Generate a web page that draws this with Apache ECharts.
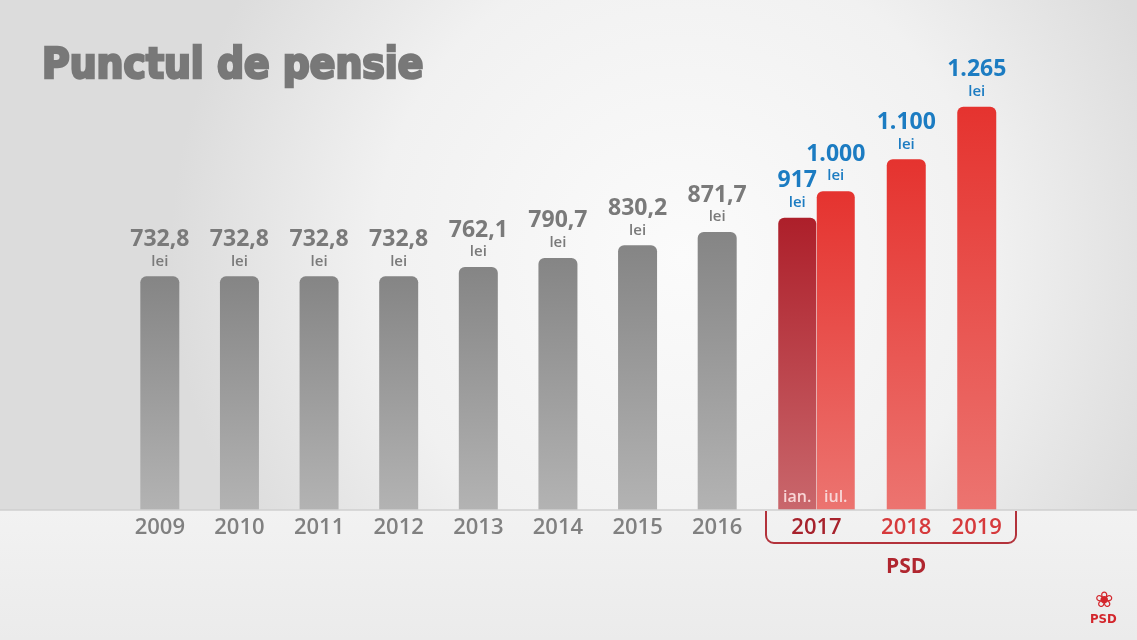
<!DOCTYPE html>
<html><head><meta charset="utf-8">
<script src="https://cdn.jsdelivr.net/npm/echarts@6/dist/echarts.min.js"></script>
<style>html,body{margin:0;padding:0;}#c{width:1137px;height:640px;}</style>
</head><body><div id="c"></div>
<script>
// ---- data ----
var years = ['2009','2010','2011','2012','2013','2014','2015','2016'];
var greyValues = [732.8, 732.8, 732.8, 732.8, 762.1, 790.7, 830.2, 871.7];
var year2017 = ['2017'];
var months2017 = ['ian.', 'iul.'];
var values2017 = [917, 1000];
var laterYears = ['2018', '2019'];
var laterValues = [1100, 1265];
var unit = 'lei';
var titleText = 'Punctul de pensie';
var groupLabel = 'PSD';

function fmt(v) {
  if (Math.round(v) === v) {
    return String(v).replace(/\B(?=(\d{3})+(?!\d))/g, '.');
  }
  return v.toFixed(1).replace('.', ',');
}

var chart = echarts.init(document.getElementById('c'));
var font = '"Open Sans", "Noto Sans", sans-serif';
var YMAX = 1286;

function lbl(color) {
  return {
    show: true, position: 'top', distance: 6,
    formatter: function (p) { return '{v|' + fmt(p.value) + '}\n{u|' + unit + '}'; },
    rich: {
      v: { fontFamily: font, fontSize: 23, fontWeight: 700, color: color, lineHeight: 26 },
      u: { fontFamily: font, fontSize: 15, fontWeight: 600, color: color, lineHeight: 18 }
    }
  };
}
var greyGrad = new echarts.graphic.LinearGradient(0, 0, 0, 1, [
  { offset: 0, color: '#858585' }, { offset: 1, color: '#b3b3b3' }]);
var redGrad = new echarts.graphic.LinearGradient(0, 0, 0, 1, [
  { offset: 0, color: '#e5332f' }, { offset: 1, color: '#ec7470' }]);
var darkRedGrad = new echarts.graphic.LinearGradient(0, 0, 0, 1, [
  { offset: 0, color: '#ad1f2a' }, { offset: 1, color: '#c9676c' }]);
var radius = [6, 6, 0, 0];

function yAx(i) {
  return { type: 'value', gridIndex: i, min: 0, max: YMAX, show: false };
}
var hiddenLine = { show: false };
var yearLabel = function (color) {
  return { margin: 7, fontFamily: font, fontSize: 22, fontWeight: 600, color: color };
};

var option = {
  backgroundColor: new echarts.graphic.RadialGradient(0.6, 0.4, 0.8, [
    { offset: 0, color: '#fbfbfb' }, { offset: 0.6, color: '#f1f1f1' }, { offset: 1, color: '#dcdcdc' }]),
  animation: false,
  title: {
    text: titleText, left: 37, top: 41,
    textStyle: { fontFamily: '"DejaVu Sans Condensed", "DejaVu Sans", sans-serif', fontWeight: 900, fontSize: 42, color: '#787878',
      textBorderColor: '#787878', textBorderWidth: 2.5 }
  },
  grid: [
    { left: 120, width: 637, top: 100, bottom: 130 },
    { left: 778, width: 77, top: 100, bottom: 130 },
    { left: 871, width: 141, top: 100, bottom: 130 }
  ],
  xAxis: [
    { type: 'category', gridIndex: 0, position: 'bottom', data: years, axisLine: hiddenLine, axisTick: hiddenLine,
      axisLabel: yearLabel('#808080') },
    { type: 'category', gridIndex: 1, position: 'bottom', z: 10, data: months2017, axisLine: hiddenLine, axisTick: hiddenLine,
      axisLabel: { inside: true, margin: 5, fontFamily: font, fontSize: 16, fontWeight: 600, color: '#f8d6d6' } },
    { type: 'category', gridIndex: 1, position: 'bottom', data: year2017, axisLine: hiddenLine, axisTick: hiddenLine,
      axisLabel: yearLabel('#a7222c') },
    { type: 'category', gridIndex: 2, position: 'bottom', data: laterYears, axisLine: hiddenLine, axisTick: hiddenLine,
      axisLabel: yearLabel('#d63a3c') }
  ],
  yAxis: [yAx(0), yAx(1), yAx(2)],
  series: [
    { type: 'bar', xAxisIndex: 0, yAxisIndex: 0, data: greyValues, barWidth: 39,
      itemStyle: { color: greyGrad, borderRadius: radius }, label: lbl('#7a7a7a') },
    { type: 'bar', xAxisIndex: 1, yAxisIndex: 1, barWidth: 38,
      data: [
        { value: values2017[0], itemStyle: { color: darkRedGrad } },
        { value: values2017[1], itemStyle: { color: redGrad } }
      ],
      itemStyle: { borderRadius: radius }, label: lbl('#1c7cc2') },
    { type: 'bar', xAxisIndex: 3, yAxisIndex: 2, data: laterValues, barWidth: 39,
      itemStyle: { color: redGrad, borderRadius: radius }, label: lbl('#1c7cc2') }
  ],
  graphic: [
    { type: 'rect', z: -1, shape: { x: 0, y: 510, width: 1137, height: 130 },
      style: { fill: new echarts.graphic.LinearGradient(0, 0, 0, 1, [
        { offset: 0, color: '#f2f2f2' }, { offset: 1, color: '#ebebeb' }]) } },
    { type: 'line', z: 10, shape: { x1: 0, y1: 510, x2: 1137, y2: 510 }, style: { stroke: '#cfcfcf', lineWidth: 1.5 } },
    { type: 'line', z: 10, shape: { x1: 766, y1: 511, x2: 766, y2: 535 }, style: { stroke: '#b3323b', lineWidth: 2 } },
    { type: 'line', z: 10, shape: { x1: 1016, y1: 511, x2: 1016, y2: 535 }, style: { stroke: '#b3323b', lineWidth: 2 } },
    { type: 'line', z: 10, shape: { x1: 774, y1: 543, x2: 1008, y2: 543 }, style: { stroke: '#b3323b', lineWidth: 2 } },
    { type: 'arc', z: 10, shape: { cx: 774, cy: 535, r: 8, startAngle: Math.PI / 2, endAngle: Math.PI, clockwise: true }, style: { stroke: '#b3323b', lineWidth: 2, fill: null } },
    { type: 'arc', z: 10, shape: { cx: 1008, cy: 535, r: 8, startAngle: 0, endAngle: Math.PI / 2, clockwise: true }, style: { stroke: '#b3323b', lineWidth: 2, fill: null } },
    { type: 'text', z: 10, left: 886, top: 557, style: { text: groupLabel, fontFamily: font, fontSize: 21, fontWeight: 700, fill: '#b0262f' } },
    { type: 'text', z: 10, left: 1090, top: 613, style: { text: 'PSD', fontFamily: '"DejaVu Sans Condensed", sans-serif', fontSize: 13, fontWeight: 900, fill: '#d3262c' } },
    { type: 'text', z: 10, left: 1095, top: 590, style: { text: '❀', fontFamily: '"DejaVu Sans", sans-serif', fontSize: 22, fill: '#d3262c' } }
  ]
};
chart.setOption(option);
</script>
</body></html>
